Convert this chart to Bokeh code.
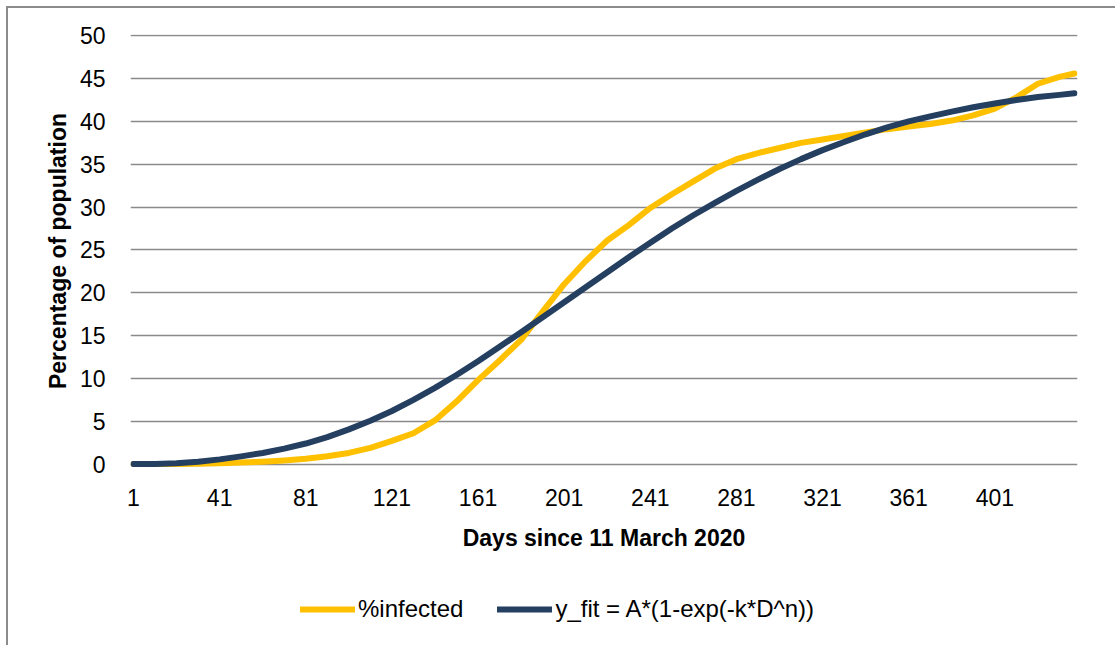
from bokeh.plotting import figure
from bokeh.layouts import column
from bokeh.models import Range1d, FixedTicker, Legend, LegendItem
from bokeh.embed import file_html
from bokeh.resources import INLINE

days = [1, 11, 21, 31, 41, 51, 61, 71, 81, 91, 101, 111, 121, 131, 141, 151, 161, 171,
        181, 191, 201, 211, 221, 231, 241, 251, 261, 271, 281, 291, 301, 311, 321, 331,
        341, 351, 361, 371, 381, 391, 401, 411, 421, 431, 438]

infected = [0.0, 0.0, 0.02, 0.05, 0.1, 0.17, 0.27, 0.42, 0.62, 0.92, 1.3, 1.9, 2.7, 3.6,
            5.1, 7.3, 9.8, 12.1, 14.5, 17.8, 21.0, 23.7, 26.1, 27.9, 29.9, 31.5, 33.0,
            34.5, 35.6, 36.3, 36.9, 37.5, 37.9, 38.3, 38.7, 39.1, 39.4, 39.7, 40.1, 40.7,
            41.5, 42.8, 44.4, 45.2, 45.6]

y_fit = [0.0, 0.02, 0.1, 0.28, 0.55, 0.9, 1.3, 1.8, 2.4, 3.15, 4.05, 5.05, 6.2, 7.5, 8.9,
         10.4, 12.0, 13.7, 15.4, 17.15, 18.9, 20.65, 22.4, 24.15, 25.85, 27.5, 29.05,
         30.5, 31.9, 33.2, 34.45, 35.6, 36.65, 37.6, 38.5, 39.3, 40.0, 40.6, 41.15,
         41.65, 42.1, 42.5, 42.85, 43.1, 43.3]

x_ticks = [1, 41, 81, 121, 161, 201, 241, 281, 321, 361, 401]
y_ticks = [0, 5, 10, 15, 20, 25, 30, 35, 40, 45, 50]

series_names = ["%infected", "y_fit = A*(1-exp(-k*D^n))"]

YELLOW = "#FFC000"
NAVY = "#243F60"
GRID = "#8a8a8a"
FONT = "Liberation Sans"
LW = 6

# ---------------- main chart ----------------
p = figure(width=1107, height=562, output_backend="svg", toolbar_location=None,
           x_range=Range1d(-0.4, 439.4), y_range=Range1d(-0.4, 50.15),
           min_border_left=122, min_border_right=38, min_border_top=26,
           min_border_bottom=103)
p.outline_line_color = None
p.background_fill_color = "white"
p.border_fill_color = "white"

p.line(days, infected, line_width=LW, color=YELLOW, line_cap="round", line_join="round")
p.line(days, y_fit, line_width=LW, color=NAVY, line_cap="round", line_join="round")

p.xaxis.ticker = FixedTicker(ticks=x_ticks)
p.yaxis.ticker = FixedTicker(ticks=y_ticks)
for ax in (p.xaxis[0], p.yaxis[0]):
    ax.axis_line_color = None
    ax.major_tick_line_color = None
    ax.minor_tick_line_color = None
    ax.major_tick_out = 0
    ax.major_tick_in = 0
    ax.minor_tick_out = 0
    ax.minor_tick_in = 0
    ax.major_label_text_font = FONT
    ax.major_label_text_font_size = "23px"
    ax.major_label_text_color = "black"
    ax.axis_label_text_font = FONT
    ax.axis_label_text_font_size = "23px"
    ax.axis_label_text_font_style = "bold"
    ax.axis_label_text_color = "black"

p.xaxis.axis_label = "Days since 11 March 2020"
p.yaxis.axis_label = "Percentage of population"
p.xaxis.major_label_standoff = 21
p.xaxis.axis_label_standoff = 16
p.yaxis.major_label_standoff = 25
p.yaxis.axis_label_standoff = 6

p.xgrid.grid_line_color = None
p.ygrid.ticker = FixedTicker(ticks=y_ticks)
p.ygrid.grid_line_color = GRID
p.ygrid.grid_line_width = 1.5

# ---------------- legend strip ----------------
pl = figure(width=1107, height=75, output_backend="svg", toolbar_location=None,
            x_range=Range1d(-2000, -1999), y_range=Range1d(-2000, -1999),
            min_border_left=0, min_border_right=0, min_border_top=0,
            min_border_bottom=0)
pl.axis.visible = False
pl.grid.grid_line_color = None
pl.outline_line_color = None
pl.background_fill_color = "white"
pl.border_fill_color = "white"
l1 = pl.line(days, infected, line_width=LW, color=YELLOW, line_cap="round")
l2 = pl.line(days, y_fit, line_width=LW, color=NAVY, line_cap="round")

legend = Legend(items=[LegendItem(label=series_names[0], renderers=[l1]),
                       LegendItem(label=series_names[1], renderers=[l2])],
                orientation="horizontal", location=(170, 22),
                glyph_width=55, glyph_height=24, label_standoff=3, spacing=34,
                padding=0, margin=0, border_line_color=None,
                background_fill_alpha=0,
                label_text_font=FONT, label_text_font_size="24px",
                label_text_color="black")
pl.add_layout(legend)

layout = column(p, pl, spacing=0)
layout.styles = {"border-left": "2px solid #8c8c8c", "border-top": "2px solid #8c8c8c",
                 "margin-left": "6px", "margin-top": "6px"}

open("out.html", "w").write(file_html(layout, INLINE))
